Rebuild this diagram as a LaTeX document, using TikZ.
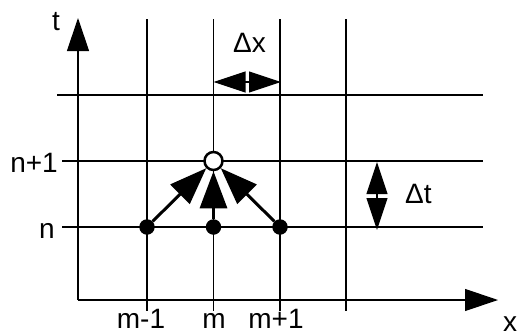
\documentclass[tikz,border=0pt]{standalone}
\usepackage{fontspec}
\setmainfont{Liberation Sans}
\usetikzlibrary{arrows.meta}
\begin{document}
\begin{tikzpicture}[x=1pt,y=-1pt,
  gridline/.style={line width=1.1pt,black},
  axisline/.style={line width=1.2pt,-{Triangle[length=33pt,width=22pt]}},
  dimarrow/.style={line width=1.1pt,{Triangle[length=32pt,width=21pt]}-{Triangle[length=32pt,width=21pt]}},
  flowarrow/.style={line width=3pt,-{Triangle[length=37pt,width=27pt]}},
  dot/.style={circle,fill=black,inner sep=0pt,minimum size=15.5pt},
  newpt/.style={circle,draw=black,fill=white,line width=2.5pt,inner sep=0pt,minimum size=18pt},
  lbl/.style={inner sep=0pt,font=\fontsize{28}{30}\selectfont}]
\useasboundingbox (0,0) rectangle (520,335);
% grid
\foreach \xx in {147,213.5,280,346} \draw[gridline] (\xx,19) -- (\xx,311);
\draw[gridline] (57,95) -- (483,95);
\draw[gridline] (62,161) -- (483,161);
\draw[gridline] (62,227) -- (483,227);
% axes
\coordinate (O) at (78,300);
\coordinate (T) at (78,18);
\coordinate (X) at (498,300);
\draw[axisline] (O) -- (T);
\draw[axisline] (O) -- (X);
% labels
\node[lbl,anchor=base] (lt) at (56,30) {t};
\node[lbl,anchor=base west] (lx) at (503,331) {x};
\node[lbl,anchor=base east] (ln1) at (58,172) {n+1};
\node[lbl,anchor=base east] (ln) at (55,238) {n};
\node[lbl,anchor=base] (lm1) at (141,328) {m-1};
\node[lbl,anchor=base] (lm) at (214,328) {m};
\node[lbl,anchor=base] (lmp) at (276,328) {m+1};
\node[lbl,anchor=base west] (ldx) at (233,52) {Δx};
\node[lbl,anchor=base west] (ldt) at (405,203) {Δt};
% dimension arrows
\coordinate (dxa) at (213.5,82);
\coordinate (dxb) at (281,82);
\draw[dimarrow] (dxa) -- (dxb);
\coordinate (dta) at (377,162);
\coordinate (dtb) at (377,230);
\draw[dimarrow] (dta) -- (dtb);
% stencil
\node[dot] (pl) at (147,227) {};
\node[dot] (pm) at (213.5,227) {};
\node[dot] (pr) at (280,227) {};
\node[newpt] (c) at (213.5,161) {};
\draw[flowarrow] (pl) -- (c);
\draw[flowarrow] (pm) -- (c);
\draw[flowarrow] (pr) -- (c);
\end{tikzpicture}
\end{document}
